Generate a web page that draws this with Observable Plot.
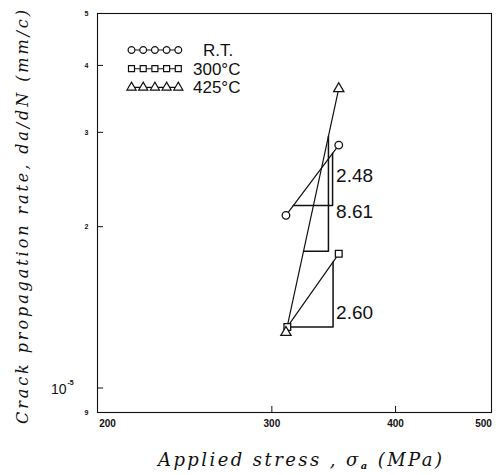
<!DOCTYPE html>
<html><head><meta charset="utf-8">
<script src="https://cdn.jsdelivr.net/npm/d3@7"></script>
<script src="https://cdn.jsdelivr.net/npm/@observablehq/plot@0.6"></script>
<style>body{margin:0;background:#fff} #chart svg{display:block;background:#fff}</style>
</head><body><div id="chart"></div>
<script>
// ---- data ----
const seriesNames = ["R.T.", "300°C", "425°C"];
const stressRT = [310, 350.5];
const rateRT = [2.10e-5, 2.84e-5];
const stress300 = [311, 350.5];
const rate300 = [1.30e-5, 1.78e-5];
const stress425 = [310, 350.5];
const rate425 = [1.27e-5, 3.62e-5];
const slopeSeries = ["R.T.", "425°C", "300°C"];
const slopeLabels = ["2.48", "8.61", "2.60"];
const slopeLegStress = [345.5, 342.2, 345.9];
const slopeBaseRate = [2.19e-5, 1.80e-5, 1.30e-5];
const slopeLabelRate = [2.49e-5, 2.13e-5, 1.38e-5];
const xTicks = [200, 300, 400, 500];
const yTicks = [0.9e-5, 1e-5, 2e-5, 3e-5, 4e-5, 5e-5];
const yTickLabels = ["9", "10", "2", "3", "4", "5"];
const yExponent = "-5";
const xLabel = "Applied stress , σ";
const xLabelSub = "a";
const xLabelTail = " (MPa)";
const yLabel = "Crack propagation rate, da/dN (mm/c)";

// ---- build tables ----
const stresses = [stressRT, stress300, stress425];
const rates = [rateRT, rate300, rate425];
const points = seriesNames.flatMap((name, s) =>
  stresses[s].map((x, i) => ({name, x, y: rates[s][i]})));

const L = Math.log;
const triPoints = slopeSeries.flatMap((name, k) => {
  const s = seriesNames.indexOf(name);
  const [x0, x1] = stresses[s], [y0, y1] = rates[s];
  const yh = slopeBaseRate[k], xv = slopeLegStress[k];
  const t1 = (L(yh) - L(y0)) / (L(y1) - L(y0));
  const xs = Math.exp(L(x0) + t1 * (L(x1) - L(x0)));
  const t2 = (L(xv) - L(x0)) / (L(x1) - L(x0));
  const yt = Math.exp(L(y0) + t2 * (L(y1) - L(y0)));
  return [{name, x: xs, y: yh}, {name, x: xv, y: yh}, {name, x: xv, y: yt}];
});
const labelX = d3.max(slopeLegStress);
const slopeText = slopeLabels.map((t, k) => ({t, x: labelX, y: slopeLabelRate[k]}));

const ink = "#111";
const svg = Plot.plot({
  width: 500, height: 475,
  marginLeft: 97, marginRight: 9, marginTop: 13, marginBottom: 63,
  style: {background: "#fff", color: ink, fontFamily: "Liberation Sans, Arial, sans-serif"},
  x: {type: "log", domain: [200, 500]},
  y: {type: "log", domain: [0.9e-5, 5e-5]},
  symbol: {domain: seriesNames, range: ["circle", "square", "triangle"]},
  marks: [
    Plot.frame({stroke: ink, strokeWidth: 1.1}),
    Plot.axisY(yTicks.slice(1, 5), {tickSize: -6, tickFormat: () => "", label: null, stroke: ink}),
    Plot.axisX([300, 400], {tickSize: -6, tickFormat: () => "", label: null, stroke: ink}),
    Plot.text(yTicks.filter((d, i) => i !== 1), {y: d => d, text: d => yTickLabels[yTicks.indexOf(d)],
      frameAnchor: "left", dx: -9, textAnchor: "end", fontSize: 7, fontWeight: "bold"}),
    Plot.text([yTicks[1]], {y: d => d, text: d => yTickLabels[1], frameAnchor: "left",
      dx: -31, dy: 2, textAnchor: "end", fontSize: 14}),
    Plot.text([yTicks[1]], {y: d => d, text: () => yExponent, frameAnchor: "left",
      dx: -30, dy: -5, textAnchor: "start", fontSize: 7, fontWeight: "bold"}),
    Plot.text([xTicks[0]], {x: d => d, text: d => String(d), frameAnchor: "bottom", dy: 14, dx: 10, fontSize: 10, fontWeight: 600}),
    Plot.text(xTicks.slice(1, 3), {x: d => d, text: d => String(d), frameAnchor: "bottom", dy: 14, fontSize: 10, fontWeight: 600}),
    Plot.text([xTicks[3]], {x: d => d, text: d => String(d), frameAnchor: "bottom", dy: 14, dx: -8, fontSize: 10, fontWeight: 600}),
    Plot.line(points, {x: "x", y: "y", z: "name", stroke: ink, strokeWidth: 1.2}),
    Plot.line(triPoints, {x: "x", y: "y", z: "name", stroke: ink, strokeWidth: 1.5}),
    Plot.dot(points, {x: "x", y: "y", symbol: "name", r: 3.8, fill: "white", stroke: ink, strokeWidth: 1.3}),
    Plot.text(slopeText, {x: "x", y: "y", text: "t", textAnchor: "start", dx: 3, fontSize: 19, fill: ink})
  ]
});
document.getElementById("chart").appendChild(svg);

// ---- legend (inside the frame, top-left) and axis titles ----
const s = d3.select(svg);
const shapes = [d3.symbolCircle, d3.symbolSquare, d3.symbolTriangle];
const lg = s.append("g").attr("text-anchor", "start");
seriesNames.forEach((name, i) => {
  const cy = 50 + i * 18.7;
  const g = lg.append("g");
  g.append("line").attr("x1", 128).attr("x2", 181).attr("y1", cy).attr("y2", cy)
    .attr("stroke", ink).attr("stroke-width", 1.1);
  d3.range(5).forEach(k => {
    g.append("path").attr("d", d3.symbol(shapes[i], 36)())
      .attr("transform", `translate(${131.5 + k * 11.7},${cy})`)
      .attr("fill", "white").attr("stroke", ink).attr("stroke-width", 1.2);
  });
  g.append("text").attr("x", i === 0 ? 203 : 193).attr("y", cy + 6)
    .attr("text-anchor", "start")
    .attr("font-size", 17).attr("font-family", "Liberation Sans, Arial, sans-serif")
    .attr("fill", ink).text(name);
});

const serif = "'DejaVu Serif', serif";
s.append("text")
  .attr("transform", "translate(23,217) rotate(-90)")
  .attr("text-anchor", "middle").attr("dominant-baseline", "middle")
  .attr("font-family", serif).attr("font-style", "italic").attr("font-size", 16)
  .attr("textLength", 414).attr("lengthAdjust", "spacing")
  .attr("fill", ink).text(yLabel);

const xt = s.append("text")
  .attr("x", 300).attr("y", 466)
  .attr("text-anchor", "middle")
  .attr("font-family", serif).attr("font-style", "italic").attr("font-size", 18)
  .attr("textLength", 284).attr("lengthAdjust", "spacing")
  .attr("fill", ink);
xt.append("tspan").text(xLabel);
xt.append("tspan").attr("font-size", 10).attr("dy", 3).attr("font-weight", "bold").text(xLabelSub);
xt.append("tspan").attr("dy", -3).text(xLabelTail);
</script>
</body></html>
